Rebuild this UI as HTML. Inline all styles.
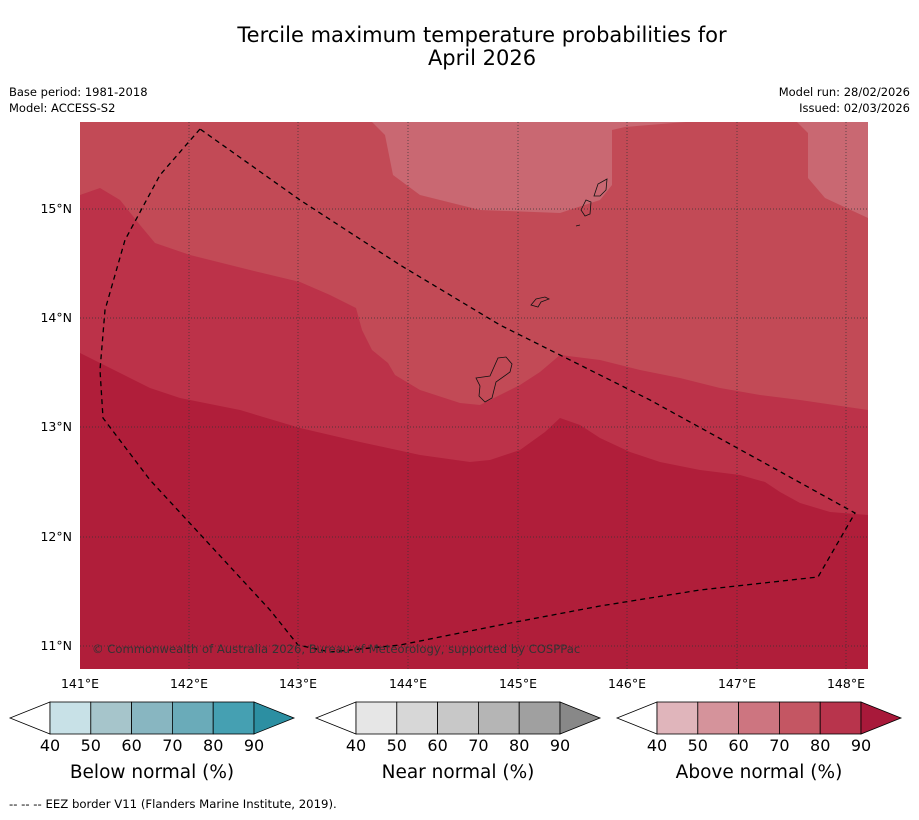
<!DOCTYPE html>
<html><head><meta charset="utf-8"><style>
body{margin:0;background:#fff;width:919px;height:816px;overflow:hidden;font-family:"DejaVu Sans",sans-serif}
</style></head><body>
<svg width="919" height="816" xmlns="http://www.w3.org/2000/svg" font-family="DejaVu Sans, sans-serif">
<text x="482" y="42" font-size="21" text-anchor="middle">Tercile maximum temperature probabilities for</text>
<text x="482" y="65" font-size="21" text-anchor="middle">April 2026</text>
<text x="9" y="96" font-size="11.5">Base period: 1981-2018</text>
<text x="9" y="112" font-size="11.5">Model: ACCESS-S2</text>
<text x="910" y="96" font-size="11.5" text-anchor="end">Model run: 28/02/2026</text>
<text x="910" y="112" font-size="11.5" text-anchor="end">Issued: 02/03/2026</text>
<defs><clipPath id="mc"><rect x="80" y="122" width="788" height="547"/></clipPath></defs>
<g clip-path="url(#mc)">
<rect x="80" y="122" width="788" height="547" fill="#c24a56"/>
<polygon fill="#c96872" points="372,122 385,135 393,175 420,195 480,210 560,213 600,200 612,185 612,130 625,127 686,122"/>
<polygon fill="#c96872" points="797,122 808,133 808,178 825,198 868,218 868,122"/>
<polygon fill="#bc3249" points="80,195 100,188 120,200 140,225 155,243 190,255 250,270 300,282 330,295 356,308 362,330 372,350 388,363 395,375 420,390 460,403 480,405 500,395 520,385 540,372 560,355 600,360 640,370 680,378 720,388 760,395 800,400 868,410 868,669 80,669"/>
<polygon fill="#b01e3a" points="80,353 120,373 150,388 180,398 240,410 300,428 360,442 420,455 470,462 490,460 520,450 545,432 560,418 580,425 600,438 630,452 660,462 700,470 740,475 765,482 780,492 800,503 830,512 868,515 868,669 80,669"/>
<g stroke="#333" stroke-width="0.7" stroke-dasharray="1,2">
<line x1="189" y1="122" x2="189" y2="669"/><line x1="298" y1="122" x2="298" y2="669"/><line x1="408" y1="122" x2="408" y2="669"/><line x1="518" y1="122" x2="518" y2="669"/><line x1="627" y1="122" x2="627" y2="669"/><line x1="737" y1="122" x2="737" y2="669"/><line x1="846" y1="122" x2="846" y2="669"/>
<line x1="80" y1="209" x2="868" y2="209"/><line x1="80" y1="318" x2="868" y2="318"/><line x1="80" y1="427" x2="868" y2="427"/><line x1="80" y1="537" x2="868" y2="537"/><line x1="80" y1="646" x2="868" y2="646"/>
</g>
<g fill="none" stroke="#111" stroke-width="0.8">
<path d="M476,378 L490,376 L498,358 L506,357 L512,364 L510,372 L496,382 L492,398 L485,402 L479,396 L480,386 Z"/>
<path d="M531,305 L536,299 L545,297 L549,299 L541,302 L538,307 Z"/>
<path d="M581,210 L586,200 L591,202 L590,214 L585,216 Z"/>
<path d="M594,196 L598,184 L607,179 L606,190 L600,196 Z"/>
<path d="M576,226 L580,225"/>
</g>
<polyline fill="none" stroke="#000" stroke-width="1.3" stroke-dasharray="5,4" points="200,129 160,175 125,240 105,310 100,370 103,418 150,480 210,545 270,610 298,645 330,652 400,645 500,625 600,606 700,590 818,577 855,513 750,455 650,400 560,355 500,325 400,265 300,200 200,129"/>
<text x="92" y="653" font-size="11.6" fill="#333">© Commonwealth of Australia 2026, Bureau of Meteorology, supported by COSPPac</text>
</g>
<g font-size="12.5">
<text x="72" y="213" text-anchor="end">15°N</text><text x="72" y="322" text-anchor="end">14°N</text><text x="72" y="431" text-anchor="end">13°N</text><text x="72" y="541" text-anchor="end">12°N</text><text x="72" y="650" text-anchor="end">11°N</text>
</g>
<g font-size="12.5" text-anchor="middle">
<text x="80" y="688">141°E</text><text x="189" y="688">142°E</text><text x="298" y="688">143°E</text><text x="408" y="688">144°E</text><text x="518" y="688">145°E</text><text x="627" y="688">146°E</text><text x="737" y="688">147°E</text><text x="846" y="688">148°E</text>
</g>
<g id="cbs"></g>
<text x="9" y="808" font-size="11.7">--  --  -- EEZ border V11 (Flanders Marine Institute, 2019).</text>
</svg>
<script>
const bars=[
 {x:10,name:"Below normal (%)",cols:["#c8e1e7","#a6c5cb","#88b6c1","#6aabb9","#45a0b2","#2c8fa2"]},
 {x:316,name:"Near normal (%)",cols:["#e6e6e6","#d7d7d7","#c8c8c8","#b5b5b5","#a0a0a0","#888888"]},
 {x:617,name:"Above normal (%)",cols:["#e0b5bb","#d5939b","#cd7580","#c45663","#b8344c","#a8193a"]}];
const ticks=["40","50","60","70","80","90"];
const g=document.getElementById('cbs');const NS="http://www.w3.org/2000/svg";
bars.forEach(b=>{
 const grp=document.createElementNS(NS,'g');
 
 
 const y=702,h=32,w=40.8,x0=b.x+40;
 let p=document.createElementNS(NS,'polygon');
 p.setAttribute('points',`${x0},${y} ${b.x},${y+h/2} ${x0},${y+h}`);p.setAttribute('fill','#fff');p.setAttribute('stroke','#000');p.setAttribute('stroke-width','0.8');grp.appendChild(p);
 for(let i=0;i<5;i++){const r=document.createElementNS(NS,'rect');r.setAttribute('x',x0+i*w);r.setAttribute('y',y);r.setAttribute('width',w);r.setAttribute('height',h);r.setAttribute('fill',b.cols[i]);r.setAttribute('stroke','#000');r.setAttribute('stroke-width','0.8');grp.appendChild(r);}
 const xe=x0+5*w;
 p=document.createElementNS(NS,'polygon');
 p.setAttribute('points',`${xe},${y} ${xe+40},${y+h/2} ${xe},${y+h}`);p.setAttribute('fill',b.cols[5]);p.setAttribute('stroke','#000');p.setAttribute('stroke-width','0.8');grp.appendChild(p);
 ticks.forEach((t,i)=>{const tx=document.createElementNS(NS,'text');tx.setAttribute('x',x0+i*w);tx.setAttribute('y',751);tx.setAttribute('font-size','16');tx.setAttribute('text-anchor','middle');tx.textContent=t;grp.appendChild(tx);});
 const tt=document.createElementNS(NS,'text');
 
 
 tt.setAttribute('x',x0+2.5*w);tt.setAttribute('y',778);tt.setAttribute('font-size','18.5');tt.setAttribute('text-anchor','middle');tt.textContent=b.name;grp.appendChild(tt);
 g.appendChild(grp);
});
</script>
</body></html>
